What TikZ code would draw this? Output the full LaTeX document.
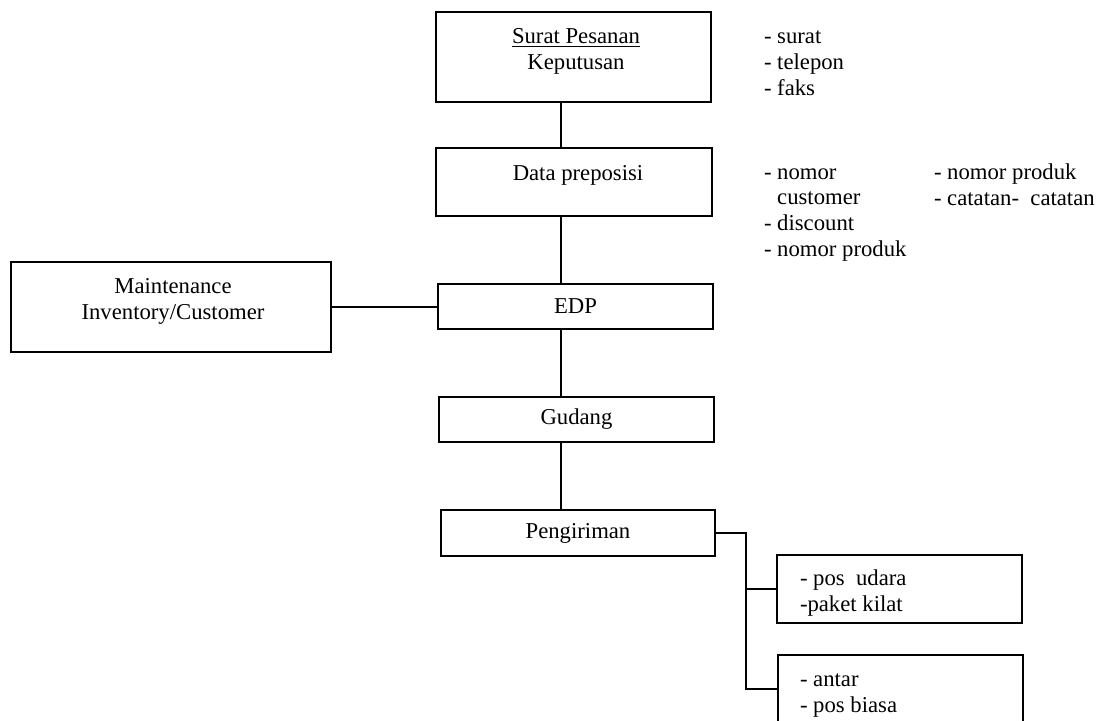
\documentclass[tikz,border=0pt]{standalone}
\usepackage{fontspec}
\setmainfont{Liberation Serif}
\begin{document}
\begin{tikzpicture}[x=0.5pt,y=-0.5pt,
  txt/.style={font=\fontsize{11.35}{12.8}\selectfont, inner sep=0pt, outer sep=0pt},
  box/.style={txt, draw, line width=0.9pt, rectangle},
  list/.style={txt, align=left, anchor=base west},
  link/.style={line width=0.75pt}]
\useasboundingbox (0,0) rectangle (1105,720);

% main chain of boxes
\node[box, minimum width=137.5pt, minimum height=45pt] (order) at (573.5,57) {};
\node[box, minimum width=138pt, minimum height=34pt] (data) at (574,182) {};
\node[box, minimum width=137.5pt, minimum height=22.5pt] (edp) at (575.5,306.5) {EDP};
\node[box, minimum width=137.5pt, minimum height=22.5pt] (gudang) at (576.5,419.5) {Gudang};
\node[box, minimum width=137pt, minimum height=23pt] (kirim) at (578,533) {Pengiriman};
\node[box, minimum width=160pt, minimum height=45pt] (maint) at (171,307) {};
\node[box, minimum width=122.5pt, minimum height=34pt] (udara) at (899.5,589) {};
\node[box, minimum width=122.5pt, minimum height=34pt] (antar) at (900.5,689) {};

% box captions (multi-line nodes are placed by the baseline of their last line)
\node[txt, align=center, anchor=base] (ordertxt) at (576,69) {\underline{Surat Pesanan}\\Keputusan};
\node[txt, anchor=base] (datatxt) at (578,180) {Data preposisi};
\node[txt, align=center, anchor=base] (mainttxt) at (173,319) {Maintenance\\Inventory/Customer};
\node[list] (udaratxt) at (800,611) {- pos~ udara\\-paket kilat};
\node[list] (antartxt) at (800,712) {- antar\\- pos biasa};

% side notes
\node[list, font=\fontsize{11.35}{13}\selectfont] (media) at (764,95) {- surat\\- telepon\\- faks};
\node[list] (fields) at (764,256) {- nomor\\\phantom{- }customer\\- discount\\- nomor produk};
\node[list] (fields2) at (934,205) {- nomor produk\\- catatan-~ catatan};

% connectors
\coordinate (spine) at (561,0);
\coordinate (bus) at (746,0);
\draw[link] (order.south -| spine) -- (data.north -| spine);
\draw[link] (data.south -| spine) -- (edp.north -| spine);
\draw[link] (edp.south -| spine) -- (gudang.north -| spine);
\draw[link] (gudang.south -| spine) -- (kirim.north -| spine);
\draw[link] (maint.east) -- (maint.east -| edp.west);
\draw[link] (kirim.east) -- (kirim.east -| bus) |- (antar.west);
\draw[link] (udara.west) -- (udara.west -| bus);
\end{tikzpicture}
\end{document}
